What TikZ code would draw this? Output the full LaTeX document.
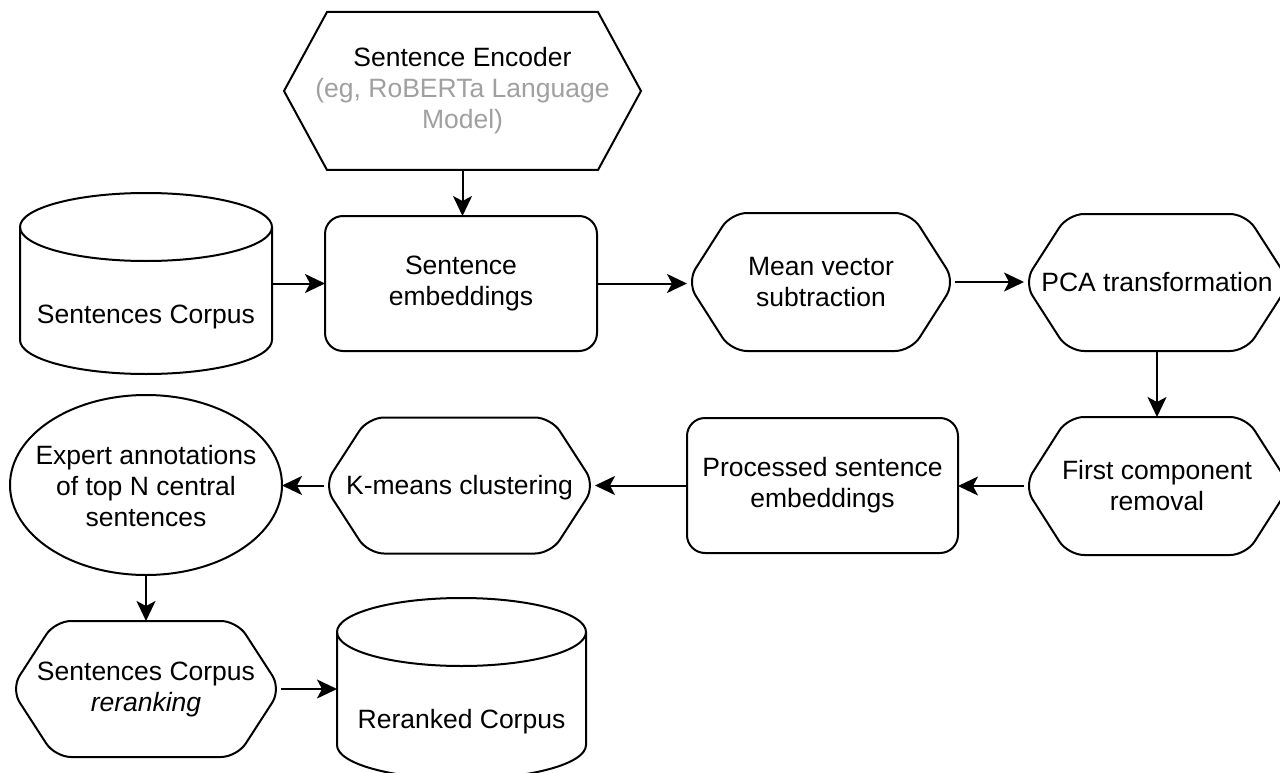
\documentclass[tikz,border=0pt]{standalone}
\usepackage{fontspec}
\setmainfont{Liberation Sans}
\usetikzlibrary{arrows.meta}
\definecolor{lightgraytext}{RGB}{160,160,160}
\begin{document}
\begin{tikzpicture}[x=1pt,y=-1pt,
  line/.style={line width=2pt, black},
  conn/.style={line, -{Stealth[length=20pt,width=19pt,inset=5pt]}},
  frame/.style={inner sep=0pt, outer sep=0pt, align=center, font=\fontsize{26.5}{31}\selectfont},
  rbox/.style={frame, draw, line width=2pt, rounded corners=18pt},
  txt/.style={frame},
  hexof/.style args={#1/#2}{insert path={(#1.west) -- ([xshift=#2]#1.north west) -- ([xshift=-#2]#1.north east) -- (#1.east) -- ([xshift=-#2]#1.south east) -- ([xshift=#2]#1.south west) -- cycle}},
]
\useasboundingbox (0,0) rectangle (1280,773);
\fill[white] (0,0) rectangle (1280,773);
\clip (0,0) rectangle (1280,773);

% Sentence Encoder
\node[frame, minimum width=357pt, minimum height=158pt] (enc) at (462.5,91) {Sentence Encoder\\\textcolor{lightgraytext}{(eg, RoBERTa Language}\\\textcolor{lightgraytext}{Model)}};
\draw[line] [hexof=enc/43pt];

% Sentences Corpus cylinder
\node[frame, minimum width=252pt, minimum height=181pt] (corpus) at (146,283.5) {};
\draw[line] (20,227) -- (20,340) arc[start angle=180, end angle=360, x radius=126pt, y radius=34pt] -- (272,227);
\draw[line] (146,227) ellipse [x radius=126pt, y radius=34pt];
\node[txt] at (146,317) {Sentences Corpus};

% Sentence embeddings
\node[rbox, minimum width=272pt, minimum height=135pt] (emb) at (461,283.5) {Sentence\\embeddings};

% Mean vector subtraction
\node[frame, minimum width=268pt, minimum height=138pt] (mean) at (821,282) {Mean vector\\subtraction};
\draw[line, rounded corners=16pt] [hexof=mean/44pt];

% PCA transformation
\node[frame, minimum width=266pt, minimum height=137pt] (pca) at (1157,282.5) {PCA transformation};
\draw[line, rounded corners=16pt] [hexof=pca/44pt];

% First component removal
\node[frame, minimum width=266pt, minimum height=138pt] (first) at (1157,486) {First component\\removal};
\draw[line, rounded corners=16pt] [hexof=first/44pt];

% Processed sentence embeddings
\node[rbox, minimum width=271pt, minimum height=135pt] (proc) at (822.5,485.5) {Processed sentence\\embeddings};

% K-means clustering
\node[frame, minimum width=271pt, minimum height=136pt] (km) at (459.5,485.5) {};
\node[txt] at (459.5,488) {K-means clustering};
\draw[line, rounded corners=16pt] [hexof=km/44pt];

% Expert annotations ellipse
\node[frame, minimum width=272pt, minimum height=180pt] (expert) at (146,486) {Expert annotations\\of top N central\\sentences};
\draw[line] (146,485) ellipse [x radius=136pt, y radius=90pt];

% Sentences Corpus reranking
\node[frame, minimum width=270pt, minimum height=136pt] (rerank) at (146,689) {Sentences Corpus\\\textit{reranking}};
\draw[line, rounded corners=16pt] [hexof=rerank/44pt];

% Reranked Corpus cylinder
\node[frame, minimum width=249pt, minimum height=181pt] (reranked) at (461.5,688.5) {};
\draw[line] (337,632) -- (337,745) arc[start angle=180, end angle=360, x radius=124.5pt, y radius=34pt] -- (586,632);
\draw[line] (461.5,632) ellipse [x radius=124.5pt, y radius=34pt];
\node[txt] at (461.5,722) {Reranked Corpus};

% Connectors
\draw[conn] (enc.south) -- (enc.south |- emb.north);
\draw[conn] (corpus.east) -- (corpus.east -| emb.west);
\draw[conn] (emb.east) -- (emb.east -| mean.west);
\draw[conn] (mean.east) -- (mean.east -| pca.west);
\draw[conn] (pca.south) -- (first.north);
\draw[conn] (first.west) -- (first.west -| proc.east);
\draw[conn] (proc.west) -- (proc.west -| km.east);
\draw[conn] (km.west) -- (km.west -| expert.east);
\draw[conn] (expert.south) -- (expert.south |- rerank.north);
\draw[conn] (rerank.east) -- (rerank.east -| reranked.west);
\end{tikzpicture}
\end{document}
